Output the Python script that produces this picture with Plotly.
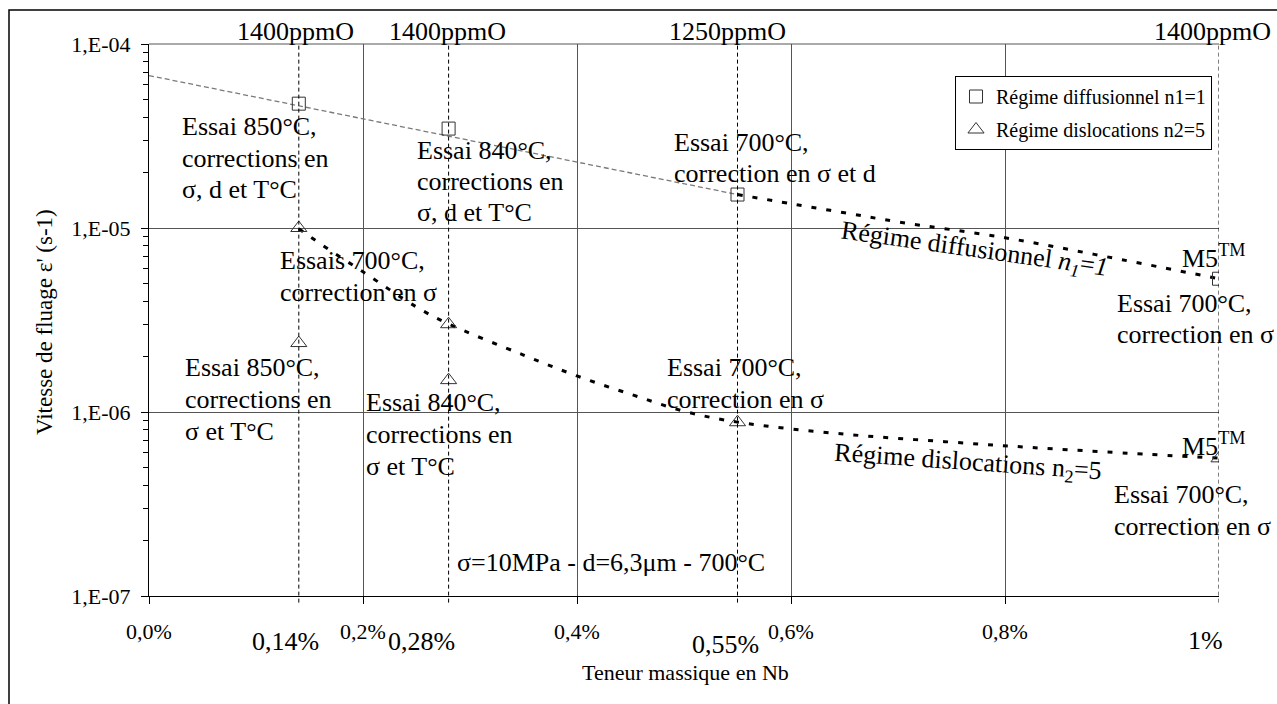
import plotly.graph_objects as go

# ---- data ---------------------------------------------------------------
# Nb content (mass %) of the alloys and their oxygen level
nb_content = [0.14, 0.28, 0.55, 1.0]
oxygen_labels = ["1400ppmO", "1400ppmO", "1250ppmO", "1400ppmO"]
nb_labels = ["0,14%", "0,28%", "0,55%", "1%"]

# creep rates (s-1) brought back to sigma=10MPa, d=6,3um, 700°C
diff_x = [0.14, 0.28, 0.55, 1.0]
diff_rate = [4.74e-5, 3.47e-5, 1.52e-5, 5.3e-6]
disl_x = [0.14, 0.14, 0.28, 0.28, 0.55, 1.0]
disl_rate = [1.0e-5, 2.37e-6, 3.0e-6, 1.49e-6, 8.8e-7, 5.6e-7]

# trend curves
diff_fit_x = [0.0, 0.55]
diff_fit_y = [6.74e-5, 1.52e-5]
diff_ext_x = [0.55, 0.6, 0.65, 0.7, 0.8, 0.9, 1.0]
diff_ext_y = [1.52e-5, 1.355e-5, 1.21e-5, 1.08e-5, 8.85e-6, 6.89e-6, 5.30e-6]
disl_fit_x = [0.14, 0.17, 0.2, 0.25, 0.28, 0.35, 0.4, 0.45, 0.5, 0.55,
              0.65, 0.75, 0.85, 1.0]
disl_fit_y = [9.9e-6, 7.51e-6, 5.78e-6, 3.72e-6, 3.01e-6, 2.04e-6, 1.57e-6,
              1.25e-6, 1.01e-6, 8.81e-7, 7.58e-7, 6.86e-7, 6.28e-7, 5.61e-7]

# axis ticks
x_ticks = [0.0, 0.2, 0.4, 0.6, 0.8]
x_ticktext = ["0,0%", "0,2%", "0,4%", "0,6%", "0,8%"]
y_ticks = [1e-7, 1e-6, 1e-5, 1e-4]
y_ticktext = ["1,E-07", "1,E-06", "1,E-05", "1,E-04"]

# ---- page geometry ----------------------------------------------------------
W, H = 1277, 704
ML, MR, MT, MB = 149, 58, 44, 108
FONT = "Liberation Serif, Times New Roman, serif"


def px(xp):
    return (xp - ML) / (W - ML - MR)


def py(yp):
    return (H - MB - yp) / (H - MT - MB)


fig = go.Figure()

# trend lines
fig.add_trace(go.Scatter(x=diff_fit_x, y=diff_fit_y, mode="lines",
                         line=dict(color="#7a7a7a", width=1.3, dash="5px,3px"),
                         showlegend=False, hoverinfo="skip"))
fig.add_trace(go.Scatter(x=diff_ext_x, y=diff_ext_y, mode="lines",
                         line=dict(color="black", width=3, dash="5px,10px", shape="spline"),
                         showlegend=False, hoverinfo="skip"))
fig.add_trace(go.Scatter(x=disl_fit_x, y=disl_fit_y, mode="lines",
                         line=dict(color="black", width=3, dash="5px,10px", shape="spline"),
                         showlegend=False, hoverinfo="skip"))

# measured points
fig.add_trace(go.Scatter(x=diff_x, y=diff_rate, mode="markers",
                         name="Régime diffusionnel n1=1", legendgroup="a",
                         marker=dict(symbol="square-open", size=13, color="#333333",
                                     line=dict(width=1))))
fig.add_trace(go.Scatter(x=disl_x, y=disl_rate, mode="markers",
                         name="Régime dislocations n2=5", legendgroup="b",
                         marker=dict(symbol="triangle-up-open", size=14, color="#333333",
                                     line=dict(width=1))))

shapes = []
# vertical dashed guides at each alloy composition
for xv in nb_content:
    shapes.append(dict(type="line", xref="x", yref="paper", x0=xv, x1=xv,
                       y0=-0.012, y1=1, line=dict(color="black", width=1, dash="4px,3px")))
# top edge of the plotting area
shapes.append(dict(type="line", xref="paper", yref="paper", x0=0, x1=1, y0=1, y1=1,
                   line=dict(color="#555555", width=1)))
# outer frame
shapes.append(dict(type="rect", xref="paper", yref="paper", x0=px(9), y0=py(10),
                   x1=px(1300), y1=py(730), line=dict(color="black", width=1.5),
                   fillcolor="rgba(0,0,0,0)", layer="above"))

annotations = []


def text_block(x, ys, lines, size=26, anchor="left"):
    for yv, t in zip(ys, lines):
        annotations.append(dict(xref="paper", yref="paper", x=px(x), y=py(yv),
                                xanchor=anchor, yanchor="middle", text=t, showarrow=False,
                                font=dict(family=FONT, size=size, color="black")))


# oxygen content above each composition
ox_centres = [295, 447, 727, 1212]
for xc, t in zip(ox_centres, oxygen_labels):
    text_block(xc, [31], [t], anchor="center")

# large Nb labels under the axis
nb_centres = [(285, 641), (421, 641), (725, 644), (1205, 640)]
for (xc, yc), t in zip(nb_centres, nb_labels):
    text_block(xc, [yc], [t], anchor="center")

# test descriptions
text_block(180, [126, 158, 190], ["Essai 850°C,", "corrections en", "σ, d et T°C"])
text_block(415, [150, 181, 212], ["Essai 840°C,", "corrections en", "σ, d et T°C"])
text_block(672, [142, 173], ["Essai 700°C,", "correction en σ et d"])
text_block(278, [260, 292], ["Essais 700°C,", "correction en σ"])
text_block(183, [367, 399, 431], ["Essai 850°C,", "corrections en", "σ et T°C"])
text_block(364, [402, 434, 466], ["Essai 840°C,", "corrections en", "σ et T°C"])
text_block(665, [367, 399], ["Essai 700°C,", "correction en σ"])
text_block(1180, [256], ["M5<sup>TM</sup>"])
text_block(1115, [303, 334], ["Essai 700°C,", "correction en σ"])
text_block(1180, [444], ["M5<sup>TM</sup>"])
text_block(1112, [494, 526], ["Essai 700°C,", "correction en σ"])
text_block(611, [562], ["σ=10MPa - d=6,3μm - 700°C"], anchor="center")

# regime labels along the trend curves
annotations.append(dict(xref="paper", yref="paper", x=px(974), y=py(250), textangle=8,
                        text="Régime diffusionnel <i>n</i><sub><i>1</i></sub>=<i>1</i>",
                        showarrow=False, xanchor="center", yanchor="middle",
                        font=dict(family=FONT, size=26, color="black")))
annotations.append(dict(xref="paper", yref="paper", x=px(968), y=py(463), textangle=4,
                        text="Régime dislocations n<sub>2</sub>=5",
                        showarrow=False, xanchor="center", yanchor="middle",
                        font=dict(family=FONT, size=26, color="black")))

# axis titles
annotations.append(dict(xref="paper", yref="paper", x=px(685), y=py(672),
                        text="Teneur massique en Nb", showarrow=False,
                        xanchor="center", yanchor="middle",
                        font=dict(family=FONT, size=22, color="black")))
annotations.append(dict(xref="paper", yref="paper", x=px(44), y=py(322), textangle=-90,
                        text="Vitesse de fluage ε' (s-1)", showarrow=False,
                        xanchor="center", yanchor="middle",
                        font=dict(family=FONT, size=23, color="black")))

fig.update_layout(
    width=W, height=H,
    margin=dict(l=ML, r=MR, t=MT, b=MB, autoexpand=False),
    paper_bgcolor="white", plot_bgcolor="white",
    font=dict(family=FONT, color="black"),
    shapes=shapes, annotations=annotations,
    legend=dict(x=px(955), y=py(76), xanchor="left", yanchor="top",
                bgcolor="white", bordercolor="black", borderwidth=1,
                font=dict(family=FONT, size=20, color="black"),
                tracegroupgap=4, itemwidth=30),
    showlegend=True,
)

fig.update_xaxes(range=[0, 1], tickmode="array", tickvals=x_ticks, ticktext=x_ticktext,
                 ticks="outside", ticklen=7, tickcolor="black",
                 showline=True, linecolor="black", linewidth=1,
                 showgrid=True, gridcolor="#555555", gridwidth=1, zeroline=False,
                 tickfont=dict(family=FONT, size=22), ticklabelstandoff=9)
fig.update_yaxes(type="log", range=[-7, -4], tickmode="array", tickvals=y_ticks,
                 ticktext=y_ticktext, ticks="outside", ticklen=7, tickcolor="black",
                 showline=True, linecolor="black", linewidth=1,
                 showgrid=True, gridcolor="#555555", gridwidth=1, zeroline=False,
                 tickfont=dict(family=FONT, size=22), ticklabelstandoff=6,
                 minor=dict(ticks="outside", ticklen=5, tickcolor="black",
                            dtick="D1", showgrid=False))

fig.write_html("out.html")
